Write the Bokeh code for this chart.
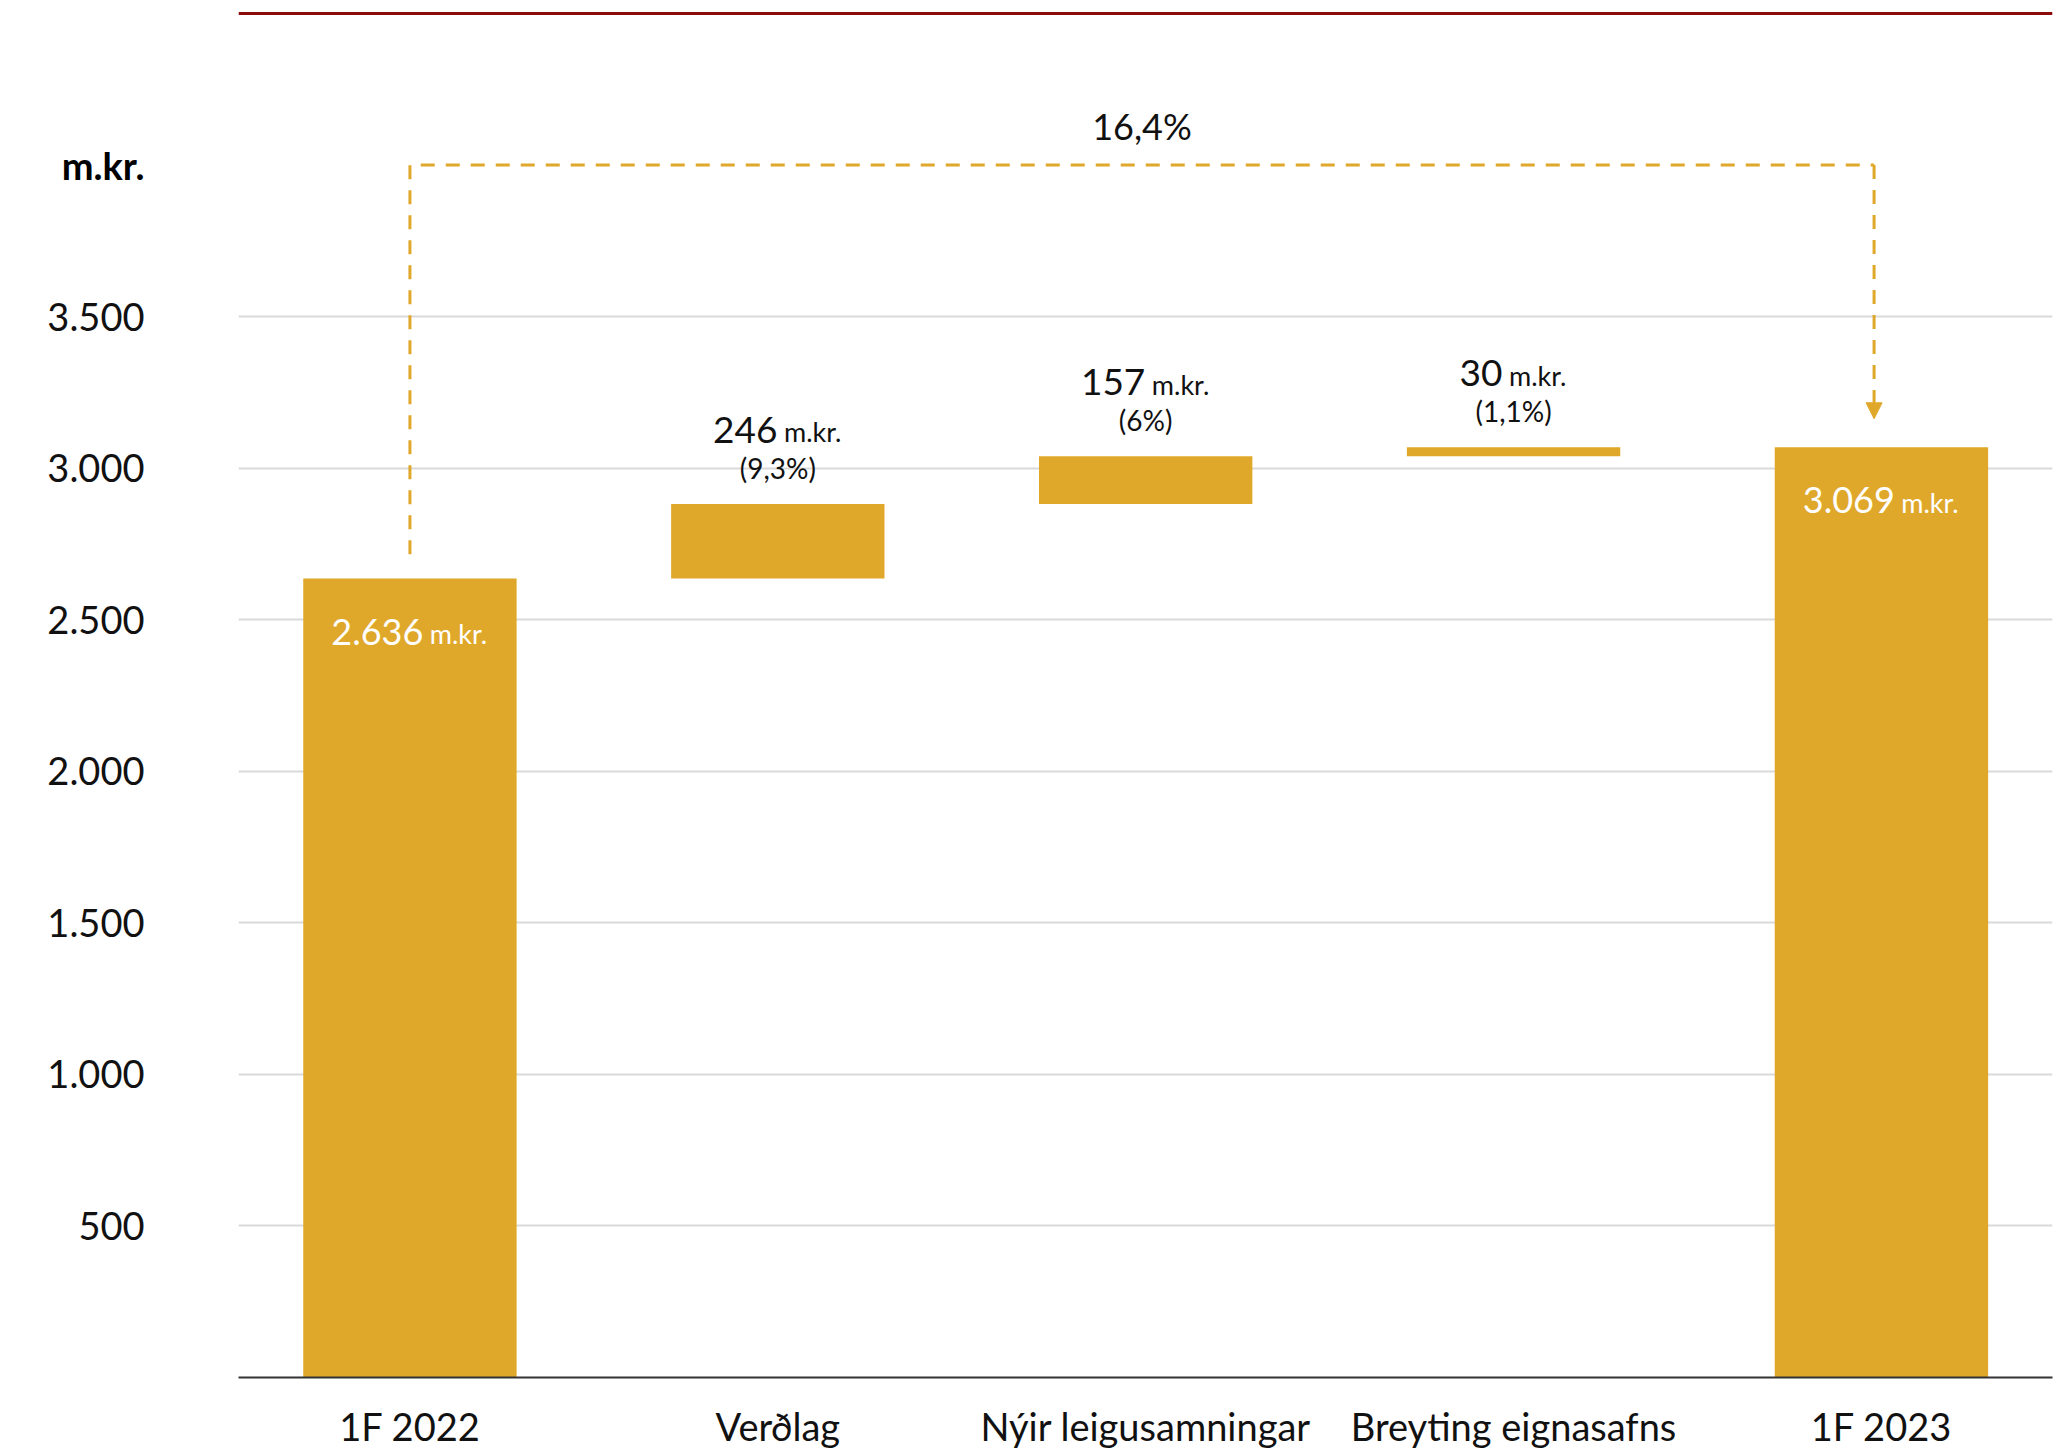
from bokeh.plotting import figure
from bokeh.models import (Range1d, FixedTicker, Span, LinearAxis, Arrow, NormalHead,
                          ColumnDataSource)
from bokeh.core.properties import value
from bokeh.embed import file_html
from bokeh.resources import INLINE

# ---------------- data ----------------
categories = ["1F 2022", "Verðlag", "Nýir leigusamningar", "Breyting eignasafns", "1F 2023"]
start_value = 2636
changes = [246, 157, 30]
end_value = 3069
change_pct_labels = ["(9,3%)", "(6%)", "(1,1%)"]
total_pct_label = "16,4%"
y_ticks = [500, 1000, 1500, 2000, 2500, 3000, 3500]
unit = "m.kr."

# ---------------- styling ----------------
GOLD = "#E0A82A"
FONT = "Lato"
TXT = "#111111"
X_START, X_END = -0.466, 4.465
LEVEL = 4000  # height of the total-change bracket

def fmt(v):
    return f"{v:,}".replace(",", ".")

EM = {str(d): 0.58 for d in range(10)}
EM.update({".": 0.23, ",": 0.23, "m": 0.86, "k": 0.50, "r": 0.35, " ": 0.19,
           "%": 0.80, "(": 0.31, ")": 0.31})

def text_w(s, size):
    return sum(EM.get(ch, 0.55) for ch in s) * size

# waterfall geometry derived from data
bottoms, tops = [0], [start_value]
running = start_value
for c in changes:
    bottoms.append(running)
    running += c
    tops.append(running)
bottoms.append(0)
tops.append(end_value)
xs = list(range(len(categories)))

LEFT = 238
p = figure(width=2058, height=1451, output_backend="svg", toolbar_location=None,
           x_range=Range1d(X_START, X_END), y_range=Range1d(0, 4510),
           min_border_left=LEFT, min_border_right=6, min_border_top=10, min_border_bottom=74)
p.background_fill_color = "white"
p.border_fill_color = "white"
p.outline_line_color = None

# axes
Y_SIZE, Y_STANDOFF = 38, 94
p.yaxis.ticker = FixedTicker(ticks=y_ticks)
p.yaxis.major_label_overrides = {t: fmt(t) for t in y_ticks}
p.yaxis.axis_line_color = None
p.yaxis.major_tick_line_color = None
p.yaxis.minor_tick_line_color = None
p.yaxis.major_tick_out = 0
p.yaxis.major_tick_in = 0
p.yaxis.major_label_standoff = Y_STANDOFF
p.yaxis.major_label_text_font = FONT
p.yaxis.major_label_text_font_size = f"{Y_SIZE}px"
p.yaxis.major_label_text_color = TXT

p.xaxis.ticker = FixedTicker(ticks=xs)
p.xaxis.major_label_overrides = {i: c for i, c in zip(xs, categories)}
p.xaxis.axis_line_color = "#333333"
p.xaxis.axis_line_width = 2
p.xaxis.major_tick_line_color = None
p.xaxis.minor_tick_line_color = None
p.xaxis.major_tick_out = 0
p.xaxis.major_tick_in = 0
p.xaxis.major_label_standoff = 25
p.xaxis.major_label_text_font = FONT
p.xaxis.major_label_text_font_size = "38px"
p.xaxis.major_label_text_color = TXT

# unit label at the top-left: a second left axis stacked outside the first one,
# pulled back right with a negative standoff so it lines up with the tick labels
ywidth = Y_STANDOFF + max(text_w(fmt(t), Y_SIZE) for t in y_ticks) + 3.5
unit_right = 144
unit_axis = LinearAxis(ticker=FixedTicker(ticks=[LEVEL]),
                       major_label_overrides={LEVEL: unit})
unit_axis.axis_line_color = None
unit_axis.major_tick_line_color = None
unit_axis.minor_tick_line_color = None
unit_axis.major_tick_out = 0
unit_axis.major_tick_in = 0
unit_axis.major_label_standoff = int(round((LEFT - ywidth) - unit_right))
unit_axis.major_label_text_font = FONT
unit_axis.major_label_text_font_style = "bold"
unit_axis.major_label_text_font_size = "38px"
unit_axis.major_label_text_color = "black"
p.add_layout(unit_axis, "left")

p.xgrid.grid_line_color = None
p.ygrid.ticker = FixedTicker(ticks=y_ticks)
p.ygrid.grid_line_color = "#d9d9d9"
p.ygrid.grid_line_width = 2

p.add_layout(Span(location=4500, dimension="width", line_color="#8B0A0A", line_width=3))

# bars
src = ColumnDataSource(dict(x=xs, bottom=bottoms, top=tops))
p.vbar(x="x", bottom="bottom", top="top", width=0.58, source=src,
       fill_color=GOLD, line_color=None)

# change labels above floating bars
NUM_SIZE, UNIT_SIZE, GAP = 37, 27, 6.5
cx = xs[1:-1]
ctop = tops[1:-1]
num_txt = [str(c) for c in changes]
num_off = [(text_w(t, NUM_SIZE) - GAP - text_w(unit, UNIT_SIZE)) / 2 for t in num_txt]
unit_off = [o + GAP for o in num_off]
p.text(x=cx, y=ctop, text=num_txt, x_offset=num_off, y_offset=-74,
       text_font=value(FONT), text_font_size=f"{NUM_SIZE}px", text_align="right",
       text_baseline="middle", text_color=TXT)
p.text(x=cx, y=ctop, text=[unit] * len(cx), x_offset=unit_off, y_offset=-72,
       text_font=value(FONT), text_font_size=f"{UNIT_SIZE}px", text_align="left",
       text_baseline="middle", text_color=TXT)
p.text(x=cx, y=ctop, text=change_pct_labels, y_offset=-36,
       text_font=value(FONT), text_font_size="28px", text_align="center",
       text_baseline="middle", text_color=TXT)

# totals inside bars
tx = [xs[0], xs[-1]]
ty = [tops[0], tops[-1]]
IN_NUM = 36
tnum = [fmt(start_value), fmt(end_value)]
t_off = [(text_w(t, IN_NUM) - GAP - text_w(unit, UNIT_SIZE)) / 2 for t in tnum]
p.text(x=tx, y=ty, text=tnum, x_offset=t_off, y_offset=53,
       text_font=value(FONT), text_font_size=f"{IN_NUM}px", text_align="right",
       text_baseline="middle", text_color="white")
p.text(x=tx, y=ty, text=[unit] * 2, x_offset=[o + GAP for o in t_off], y_offset=55,
       text_font=value(FONT), text_font_size=f"{UNIT_SIZE}px", text_align="left",
       text_baseline="middle", text_color="white")

# bracket with total change
arrow_x = xs[-1] - 0.02
p.line(x=[xs[0], xs[0], arrow_x], y=[tops[0] + 80, LEVEL, LEVEL],
       line_color=GOLD, line_width=3, line_dash="14 11")
p.add_layout(Arrow(end=NormalHead(size=16, fill_color=GOLD, line_color=GOLD),
                   x_start=arrow_x, y_start=LEVEL, x_end=arrow_x, y_end=tops[-1] + 94,
                   line_color=GOLD, line_width=3, line_dash="14 11"))
p.text(x=[(xs[0] + arrow_x) / 2], y=[LEVEL], text=[total_pct_label], y_offset=-39,
       text_font=value(FONT), text_font_size="36px", text_align="center",
       text_baseline="middle", text_color=TXT)

open("out.html", "w").write(file_html(p, INLINE))
